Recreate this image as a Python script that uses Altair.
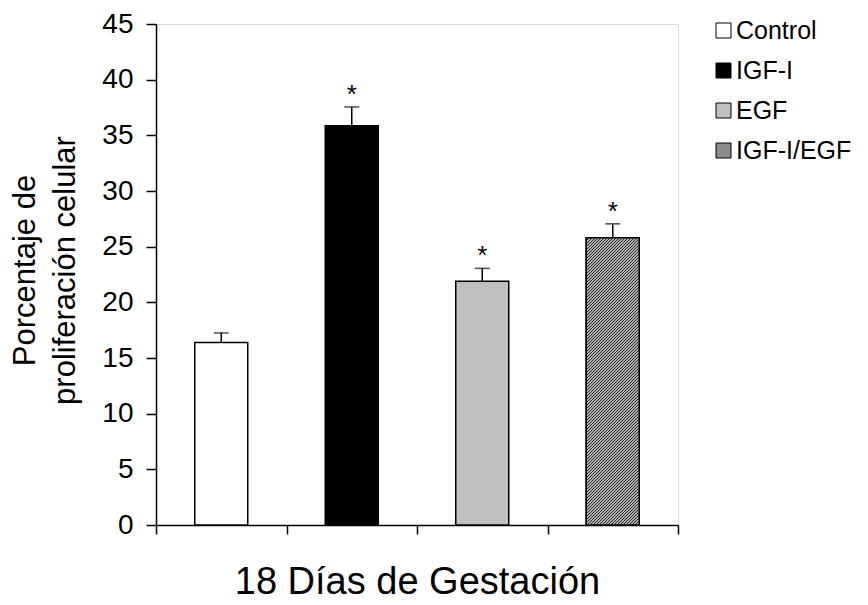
import altair as alt
import pandas as pd

# ---- data ----
grupos = ["Control", "IGF-I", "EGF", "IGF-I/EGF"]
valores = [16.4, 35.85, 21.9, 25.8]
errores = [0.85, 1.7, 1.15, 1.25]
signif = ["", "*", "*", "*"]
colores = ["#ffffff", "#000000", "#c0c0c0", "#8c8c8c"]
y_ticks = [0, 5, 10, 15, 20, 25, 30, 35, 40, 45]

df = pd.DataFrame({
    "grupo": grupos,
    "valor": valores,
    "err": errores,
    "sig": signif,
})
df["sup"] = df["valor"] + df["err"]

FONT = "Liberation Sans"

# diagonal hatch as a soft (triangle-wave) linear gradient (styling only):
# 45-degree stripes, ~3 px horizontal period on a 53 x ~287 px bar
n_cycles = 114
stops = []
for i in range(n_cycles):
    stops.append({"offset": i / n_cycles, "color": "#1e1e1e"})
    stops.append({"offset": (i + 0.5) / n_cycles, "color": "#ffffff"})
stops.append({"offset": 1, "color": "#1e1e1e"})
hatch = {"gradient": "linear", "x1": 0, "y1": 0, "x2": 0.2127, "y2": 1.1515, "stops": stops}

x_enc = alt.X(
    "grupo:N",
    sort=grupos,
    scale=alt.Scale(domain=grupos, paddingInner=0, paddingOuter=0),
    axis=alt.Axis(
        labels=False,
        tickBand="extent",
        tickSize=9,
        tickColor="black",
        tickWidth=1.5,
        domainColor="black",
        domainWidth=1.5,
        grid=False,
        title="18 Días de Gestación",
        titleFont=FONT,
        titleFontSize=38,
        titleFontWeight="normal",
        titleColor="black",
        titleX=261,
        titleY=68,
        titleBaseline="alphabetic",
        titleAlign="center",
    ),
)

y_scale = alt.Scale(domain=[0, 45], nice=False, zero=True)

y_axis = alt.Axis(
    values=y_ticks,
    labelFont=FONT,
    labelFontSize=28,
    labelColor="black",
    labelPadding=13,
    tickSize=10,
    tickColor="black",
    tickWidth=1.5,
    domainColor="black",
    domainWidth=1.5,
    grid=False,
    title=["Porcentaje de", "proliferación celular"],
    titleFont=FONT,
    titleFontSize=31,
    titleFontWeight="normal",
    titleColor="black",
    titleAngle=270,
    titleX=-122,
    titleY=246,
    titleAlign="center",
    titleBaseline="alphabetic",
    titleLineHeight=40,
)

base = alt.Chart(df)

bars = base.mark_bar(stroke="black", strokeWidth=1.5, width=53).encode(
    x=x_enc,
    y=alt.Y("valor:Q", scale=y_scale, axis=y_axis),
    fill=alt.Fill(
        "grupo:N",
        sort=grupos,
        scale=alt.Scale(domain=grupos, range=colores),
        legend=alt.Legend(
            title=None,
            orient="none",
            legendX=555,
            legendY=-6,
            padding=0,
            symbolType="square",
            symbolSize=225,
            symbolStrokeColor="black",
            symbolStrokeWidth=1,
            symbolOpacity=1,
            labelFont=FONT,
            labelFontSize=25,
            labelColor="black",
            labelOffset=0,
            labelLimit=300,
            rowPadding=14,
        ),
    ),
)

hatched = base.transform_filter(alt.datum.grupo == "IGF-I/EGF").mark_bar(
    stroke="black", strokeWidth=1.5, width=53, fill=hatch
).encode(
    x=alt.X("grupo:N", sort=grupos),
    y=alt.Y("valor:Q"),
)

err_line = base.mark_rule(color="black", strokeWidth=1.5).encode(
    x=alt.X("grupo:N", sort=grupos),
    y=alt.Y("valor:Q"),
    y2="sup:Q",
)

caps = base.mark_tick(color="black", size=15, thickness=1.5, orient="horizontal").encode(
    x=alt.X("grupo:N", sort=grupos),
    y=alt.Y("sup:Q"),
)

stars = base.mark_text(
    font=FONT, fontSize=26, color="black", baseline="alphabetic", dy=-4
).encode(
    x=alt.X("grupo:N", sort=grupos),
    y=alt.Y("sup:Q"),
    text="sig:N",
)

chart = (
    alt.layer(bars, hatched, err_line, caps, stars)
    .properties(
        width=522,
        height=501,
        autosize=alt.AutoSizeParams(type="none"),
        padding={"left": 148, "top": 16, "right": 182, "bottom": 72},
    )
    .configure_view(stroke="transparent")
    .configure(font=FONT, background="white")
)

chart.save("out.html", embed_options={"renderer": "svg", "actions": False})
